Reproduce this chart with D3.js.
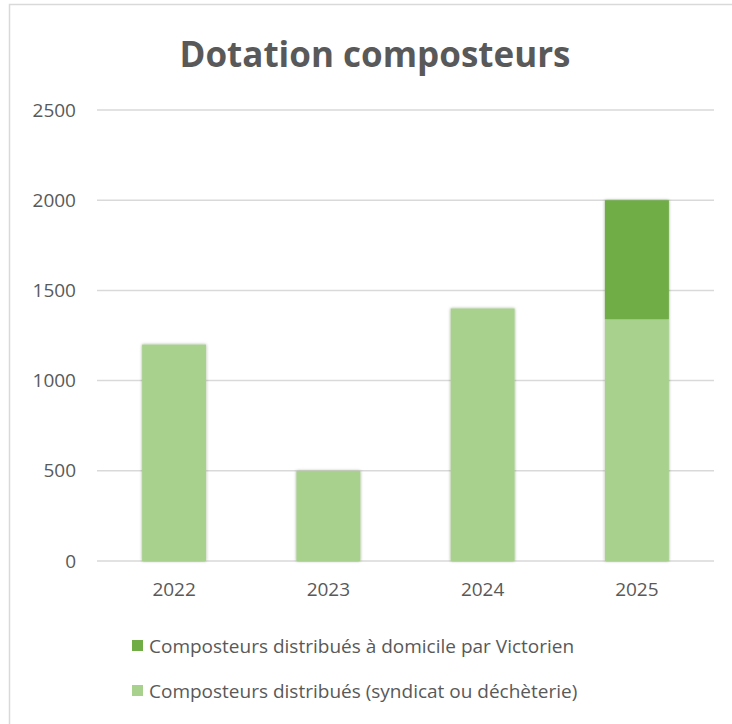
<!DOCTYPE html>
<html>
<head>
<meta charset="utf-8">
<script src="https://cdn.jsdelivr.net/npm/d3@7"></script>
<style>
  body { margin: 0; background: #fff; }
  text { font-family: "Open Sans", "Noto Sans", sans-serif; fill: #595959; }
</style>
</head>
<body>
<div class="chart"></div>
<script>
const years = ["2022", "2023", "2024", "2025"]
const syndicat = [1200, 500, 1400, 1340]
const domicile = [0, 0, 0, 660]
const yTicks = [0, 500, 1000, 1500, 2000, 2500]
const seriesNames = ["Composteurs distribués à domicile par Victorien", "Composteurs distribués (syndicat ou déchèterie)"]
const colors = ["#70AD47", "#A9D18E"]

const W = 732, H = 724

const svg = d3.select(".chart").append("svg")
    .attr("width", W)
    .attr("height", H)

const defs = svg.append("defs")
const f = defs.append("filter").attr("id", "shadow")
    .attr("x", "-20%").attr("y", "-5%").attr("width", "140%").attr("height", "110%")
f.append("feDropShadow").attr("dx", 0).attr("dy", 0).attr("stdDeviation", 1.6)
    .attr("flood-color", "#000").attr("flood-opacity", 0.35)

// outer frame (runs off the right/bottom edge)
svg.append("rect")
    .attr("x", 9.5).attr("y", 4.5)
    .attr("width", W + 20).attr("height", H + 20)
    .attr("fill", "none").attr("stroke", "#d9d9d9").attr("stroke-width", 1.5)

svg.append("text")
    .attr("x", 375).attr("y", 67)
    .attr("text-anchor", "middle")
    .style("font-size", "35px").style("font-weight", "bold")
    .text("Dotation composteurs")

const x = d3.scaleBand().domain(years).range([97, 714]).paddingInner(0.585).paddingOuter(0.2925)
const y = d3.scaleLinear().domain([0, 2500]).range([561, 110])

const grid = svg.append("g")
grid.selectAll("line").data(yTicks).join("line")
    .attr("x1", 97).attr("x2", 714)
    .attr("y1", d => y(d)).attr("y2", d => y(d))
    .attr("stroke", "#d9d9d9").attr("stroke-width", 1.5)

const yAxis = svg.append("g")
    .attr("transform", "translate(76,0)")
    .call(d3.axisLeft(y).tickValues(yTicks).tickFormat(d3.format("d")).tickSize(0).tickPadding(0))
yAxis.select(".domain").remove()
yAxis.selectAll("text").style("font-size", "19px").attr("fill", "#595959")

const xAxis = svg.append("g")
    .attr("transform", "translate(0,561)")
    .call(d3.axisBottom(x).tickSize(0).tickPadding(22))
xAxis.select(".domain").remove()
xAxis.selectAll("text").style("font-size", "19px").attr("fill", "#595959")

const table = years.map((yr, i) => ({year: yr, syndicat: syndicat[i], domicile: domicile[i]}))
const stacked = d3.stack().keys(["syndicat", "domicile"])(table)

svg.append("g").attr("filter", "url(#shadow)")
  .selectAll("g").data(stacked).join("g")
    .attr("fill", (d, i) => i == 0 ? colors[1] : colors[0])
  .selectAll("rect").data(d => d.filter(p => p[1] > p[0])).join("rect")
    .attr("x", d => x(d.data.year))
    .attr("width", x.bandwidth())
    .attr("y", d => y(d[1]))
    .attr("height", d => y(d[0]) - y(d[1]))

const legend = svg.append("g")
const rows = legend.selectAll("g").data(seriesNames).join("g")
    .attr("transform", (d, i) => `translate(132,${646 + i * 45})`)
rows.append("rect").attr("x", 0).attr("y", -6).attr("width", 11).attr("height", 11)
    .attr("fill", (d, i) => colors[i])
rows.append("text").attr("x", 17).attr("dy", "0.35em")
    .style("font-size", "19px")
    .text(d => d)
</script>
</body>
</html>
